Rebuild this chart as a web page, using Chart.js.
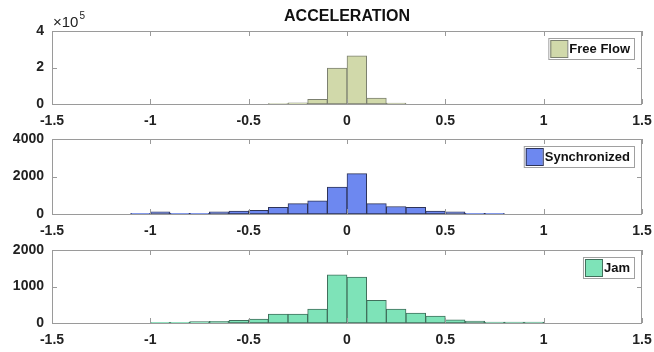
<!DOCTYPE html>
<html>
<head>
<meta charset="utf-8">
<title>Acceleration histograms</title>
<script src="https://cdn.jsdelivr.net/npm/chart.js@4"></script>
<style>
  html, body { margin: 0; padding: 0; background: #fff; }
  #wrap { position: relative; width: 654px; height: 352px; overflow: hidden; }
  #wrap canvas { position: absolute; left: 0; }
</style>
</head>
<body>
<div id="wrap">
  <canvas id="ffChart" width="654" height="128" style="top:0"></canvas>
  <canvas id="syncChart" width="654" height="110" style="top:128px"></canvas>
  <canvas id="jamChart" width="654" height="109" style="top:238px"></canvas>
</div>
<script>
// histogram data (bin centres, bin width 0.1)
const titleText = 'ACCELERATION';
const xTicks = [-1.5, -1, -0.5, 0, 0.5, 1, 1.5];

const freeFlowBins = [-0.35, -0.25, -0.15, -0.05, 0.05, 0.15, 0.25];
const freeFlowCounts = [1800, 7000, 26000, 197000, 264000, 33000, 5500];
const freeFlowTicks = [0, 200000, 400000];

const syncBins = [-1.05, -0.95, -0.85, -0.75, -0.65, -0.55, -0.45, -0.35, -0.25, -0.15,
  -0.05, 0.05, 0.15, 0.25, 0.35, 0.45, 0.55, 0.65, 0.75];
const syncCounts = [40, 110, 40, 40, 110, 150, 190, 350, 550, 700,
  1430, 2150, 550, 400, 350, 150, 110, 40, 40];
const syncTicks = [0, 2000, 4000];

const jamBins = [-0.95, -0.85, -0.75, -0.65, -0.55, -0.45, -0.35, -0.25, -0.15, -0.05,
  0.05, 0.15, 0.25, 0.35, 0.45, 0.55, 0.65, 0.75, 0.85, 0.95];
const jamCounts = [20, 20, 36, 45, 73, 110, 245, 245, 380, 1320,
  1255, 620, 380, 275, 190, 90, 55, 27, 27, 27];
const jamTicks = [0, 1000, 2000];

const FONT = '"Liberation Sans", Arial, sans-serif';
const FRAME = '#9a9a9a';

// MATLAB-like box, inward ticks, legend and extra labels
const frameBits = {
  id: 'frameBits',
  afterDatasetsDraw(chart, args, opts) {
    const { ctx, chartArea: a, scales } = chart;
    ctx.save();
    ctx.strokeStyle = FRAME;
    ctx.lineWidth = 1;
    ctx.strokeRect(a.left + 0.5, a.top + 0.5, a.right - a.left - 1, a.bottom - a.top);
    ctx.beginPath();
    xTicks.forEach(v => {
      const x = Math.round(scales.x.getPixelForValue(v)) + 0.5;
      ctx.moveTo(x, a.bottom); ctx.lineTo(x, a.bottom - 5);
      ctx.moveTo(x, a.top); ctx.lineTo(x, a.top + 5);
    });
    opts.yTicks.forEach(v => {
      const y = Math.round(scales.y.getPixelForValue(v)) + 0.5;
      ctx.moveTo(a.left, y); ctx.lineTo(a.left + 5, y);
      ctx.moveTo(a.right, y); ctx.lineTo(a.right - 5, y);
    });
    ctx.stroke();

    // legend
    ctx.font = 'bold 13px ' + FONT;
    const tw = ctx.measureText(opts.label).width;
    const h = 21, w = tw + 25;
    const lx = a.right - 8 - w, ly = a.top + 7;
    ctx.fillStyle = '#fff';
    ctx.fillRect(lx, ly, w, h);
    ctx.strokeStyle = '#a0a0a0';
    ctx.strokeRect(lx + 0.5, ly + 0.5, w, h);
    ctx.fillStyle = opts.fill;
    ctx.fillRect(lx + 2, ly + 2, 17, h - 3);
    ctx.strokeStyle = opts.edge;
    ctx.strokeRect(lx + 2.5, ly + 2.5, 17, h - 4);
    ctx.fillStyle = '#111';
    ctx.textBaseline = 'middle';
    ctx.textAlign = 'left';
    ctx.fillText(opts.label, lx + 21, ly + h / 2 + 1);

    if (opts.title) {
      ctx.font = 'bold 16px ' + FONT;
      ctx.textAlign = 'center';
      ctx.textBaseline = 'alphabetic';
      ctx.fillText(titleText, (a.left + a.right) / 2, 21);
    }
    if (opts.exponent) {
      ctx.fillStyle = '#222';
      ctx.textAlign = 'left';
      ctx.textBaseline = 'alphabetic';
      ctx.font = '15px ' + FONT;
      ctx.fillText('\u00d710', a.left + 1, 27);
      const ew = ctx.measureText('\u00d710').width;
      ctx.font = '10px ' + FONT;
      ctx.fillText(opts.exponent, a.left + 2 + ew, 19);
    }
    ctx.restore();
  }
};

function makeHist(id, bins, counts, yTicks, style, padTop, yFmt) {
  const data = bins.map((b, i) => ({ x: b, y: counts[i] }));
  return new Chart(document.getElementById(id), {
    type: 'bar',
    data: {
      datasets: [{
        data,
        backgroundColor: style.fill,
        borderColor: style.edge,
        borderWidth: 1,
        borderSkipped: false,
        barPercentage: 1,
        categoryPercentage: 1
      }]
    },
    options: {
      responsive: false,
      animation: false,
      layout: { padding: { top: padTop, right: 12, left: 0, bottom: 0 } },
      plugins: {
        legend: { display: false },
        tooltip: { enabled: false },
        frameBits: Object.assign({ yTicks }, style)
      },
      scales: {
        x: {
          type: 'linear', min: -1.5, max: 1.5, offset: false,
          afterBuildTicks: s => { s.ticks = xTicks.map(v => ({ value: v })); },
          afterFit: s => { s.height = 24; s.paddingLeft = 0; s.paddingRight = 0; },
          grid: { display: false, drawTicks: false },
          border: { display: false },
          ticks: { padding: 9, color: '#222', font: { family: FONT, size: 14, weight: 'bold' },
            maxRotation: 0, autoSkip: false, callback: v => String(v) }
        },
        y: {
          min: yTicks[0], max: yTicks[yTicks.length - 1],
          afterBuildTicks: s => { s.ticks = yTicks.map(v => ({ value: v })); },
          afterFit: s => { s.width = 52; s.paddingTop = 0; s.paddingBottom = 0; },
          grid: { display: false, drawTicks: false },
          border: { display: false },
          ticks: { padding: 8, color: '#222', font: { family: FONT, size: 14, weight: 'bold' },
            callback: yFmt }
        }
      }
    },
    plugins: [frameBits]
  });
}

makeHist('ffChart', freeFlowBins, freeFlowCounts, freeFlowTicks,
  { fill: '#d1d9aa', edge: '#7c8070', label: 'Free Flow', title: true, exponent: '5' },
  31, v => String(v / 1e5));
makeHist('syncChart', syncBins, syncCounts, syncTicks,
  { fill: '#6d88f0', edge: '#2e3458', label: 'Synchronized' },
  11, v => String(v));
makeHist('jamChart', jamBins, jamCounts, jamTicks,
  { fill: '#7ee3b8', edge: '#41705c', label: 'Jam' },
  12, v => String(v));
</script>
</body>
</html>
